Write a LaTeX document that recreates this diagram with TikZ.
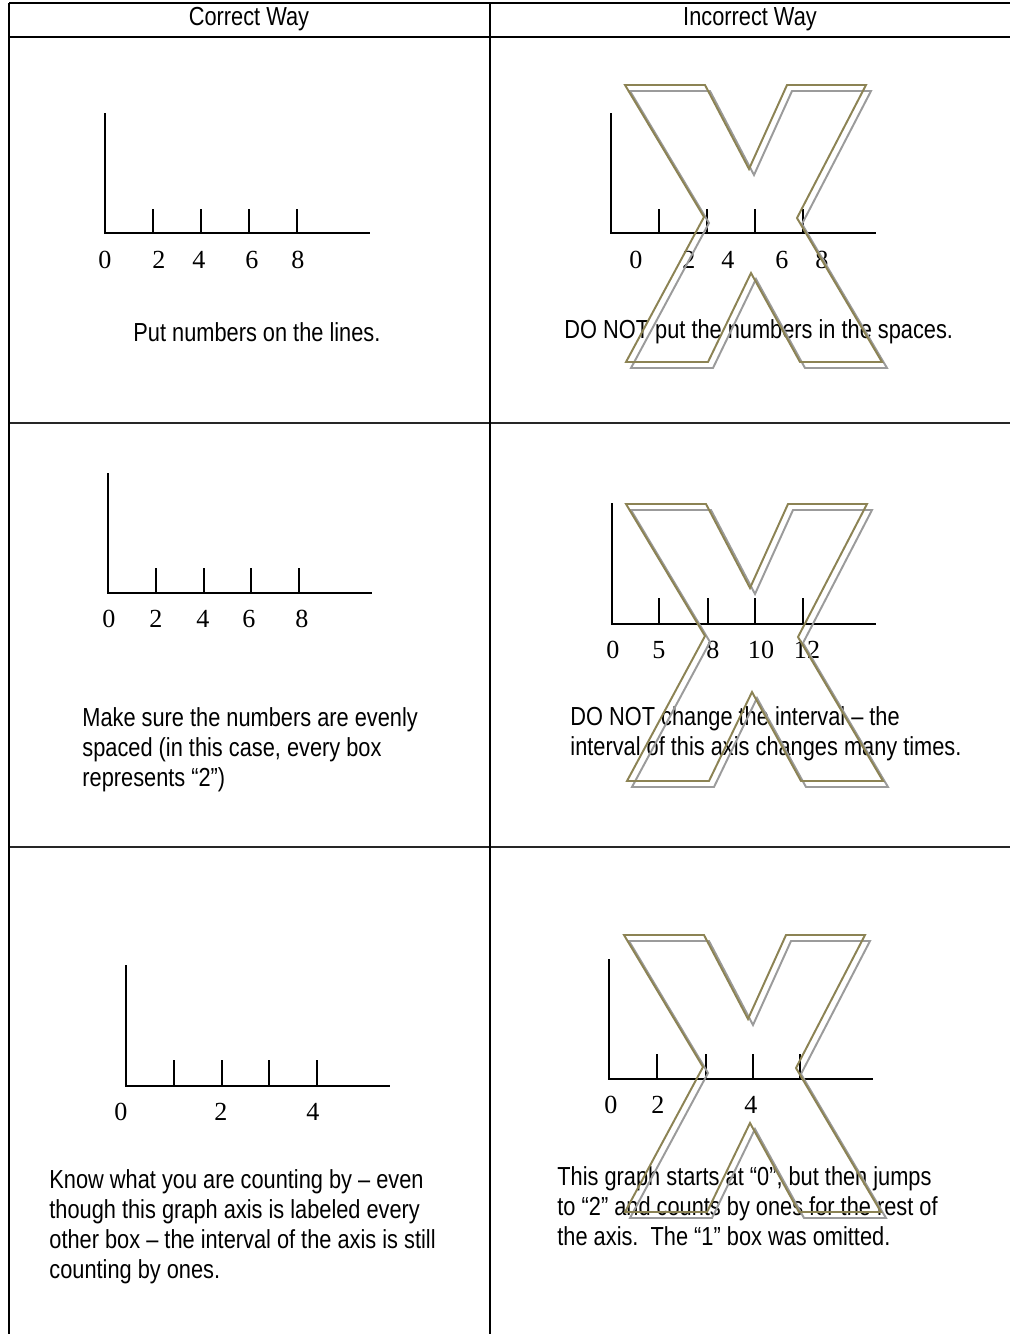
\documentclass[tikz,border=0pt]{standalone}
\usepackage{fontspec}
\setmainfont{Liberation Serif}
\newfontfamily\narrowsans[FakeStretch=0.835]{Liberation Sans}
\definecolor{xolive}{RGB}{140,131,84}
\definecolor{xgray}{RGB}{155,155,155}

\begin{document}
\begin{tikzpicture}[
  x=0.46pt, y=-0.46pt,
  rule/.style={line width=1pt},
  rowrule/.style={line width=1.3pt,draw=black!85},
  axis/.style={line width=0.9pt},
  num/.style={font=\fontsize{12}{14}\selectfont,inner sep=0pt},
  head/.style={font=\narrowsans\fontsize{12}{13.8}\selectfont,inner sep=0pt},
  note/.style={font=\narrowsans\fontsize{12}{13.8}\selectfont,align=left,
               anchor=west,inner sep=0pt},
  xmark/.style={draw=xolive,line width=0.9pt},
  xshade/.style={draw=xgray,line width=0.9pt}
]
  \useasboundingbox (0,0) rectangle (1010,1334);

  %% ===== TABLE =====
  \draw[rule] (9,3) -- (1010,3);
  \draw[rule] (9,37) -- (1010,37);
  \draw[rowrule] (9,423) -- (1010,423);
  \draw[rowrule] (9,847) -- (1010,847);
  \draw[rule] (9,3) -- (9,1334);
  \draw[rule] (490,3) -- (490,1334);

  % column titles
  \node[head] (hcor) at (249,19) {Correct Way};
  \node[head] (hinc) at (750,19) {Incorrect Way};

  %% ===== ROW 1 =====
  % correct axis
  \draw[axis] (105,113) -- (105,233) -- (370,233);
  \foreach \x in {153,201,249,297}
    \draw[axis] (\x,233) -- (\x,209);
  \foreach \x/\n in {105/0,159/2,199/4,252/6,298/8}
    \node[num] (a-\n) at (\x,260) {\n};
  \node[note] (put) at (133,332) {Put numbers on the lines.};

  % incorrect axis
  \draw[axis] (611,113) -- (611,233) -- (876,233);
  \foreach \x in {659,707,755,803}
    \draw[axis] (\x,233) -- (\x,209);
  \foreach \x/\n in {636/0,689/2,728/4,782/6,822/8}
    \node[num] (b-\n) at (\x,260) {\n};
  \node[note] (spaces) at (564,332) {DO NOT put the numbers in the spaces.};

  %% ===== ROW 2 =====
  % correct axis
  \draw[axis] (108,473) -- (108,593) -- (372,593);
  \foreach \x in {156,204,251,299}
    \draw[axis] (\x,593) -- (\x,568);
  \foreach \x/\n in {109/0,156/2,203/4,249/6,302/8}
    \node[num] (c-\n) at (\x,619) {\n};
  \node[note] (even) at (82,750)
    {Make sure the numbers are evenly\\
     spaced (in this case, every box\\
     represents “2”)};

  % incorrect axis
  \draw[axis] (612,503) -- (612,624) -- (876,624);
  \foreach \x in {659,708,755,803}
    \draw[axis] (\x,624) -- (\x,598);
  \foreach \x/\n in {613/0,659/5,713/8,761/10,807/12}
    \node[num] (d-\n) at (\x,650) {\n};
  \node[note] (interval) at (570,734)
    {DO NOT change the interval – the\\
     interval of this axis changes many times.};

  %% ===== ROW 3 =====
  % correct axis
  \draw[axis] (126,965) -- (126,1086) -- (390,1086);
  \foreach \x in {174,222,269,317}
    \draw[axis] (\x,1086) -- (\x,1060);
  \foreach \x/\n in {121/0,221/2,313/4}
    \node[num] (e-\n) at (\x,1112) {\n};
  \node[note] (ones) at (49,1227)
    {Know what you are counting by – even\\
     though this graph axis is labeled every\\
     other box – the interval of the axis is still\\
     counting by ones.};

  % incorrect axis
  \draw[axis] (609,959) -- (609,1079) -- (873,1079);
  \foreach \x in {657,706,753,800}
    \draw[axis] (\x,1079) -- (\x,1054);
  \foreach \x/\n in {611/0,658/2,751/4}
    \node[num] (f-\n) at (\x,1105) {\n};
  \node[note] (omit) at (557,1206)
    {This graph starts at “0”, but then jumps\\
     to “2” and counts by ones for the rest of\\
     the axis.\ \ The “1” box was omitted.};

  %% ===== BIG X OVER EACH WRONG WAY =====
  \foreach \ox/\oy in {625/85,626/504,624/935} {
    \begin{scope}[shift={(\ox,\oy)}]
      \draw[xshade,shift={(5,6)}] (0,0) -- (80,0) -- (124,84) -- (162,0)
        -- (241,0) -- (172,133) -- (257,277) -- (175,277) -- (126,188)
        -- (83,277) -- (1,277) -- (79,132) -- cycle;
      \draw[xmark] (0,0) -- (80,0) -- (124,84) -- (162,0)
        -- (241,0) -- (172,133) -- (257,277) -- (175,277) -- (126,188)
        -- (83,277) -- (1,277) -- (79,132) -- cycle;
    \end{scope}
  }

\end{tikzpicture}
\end{document}
